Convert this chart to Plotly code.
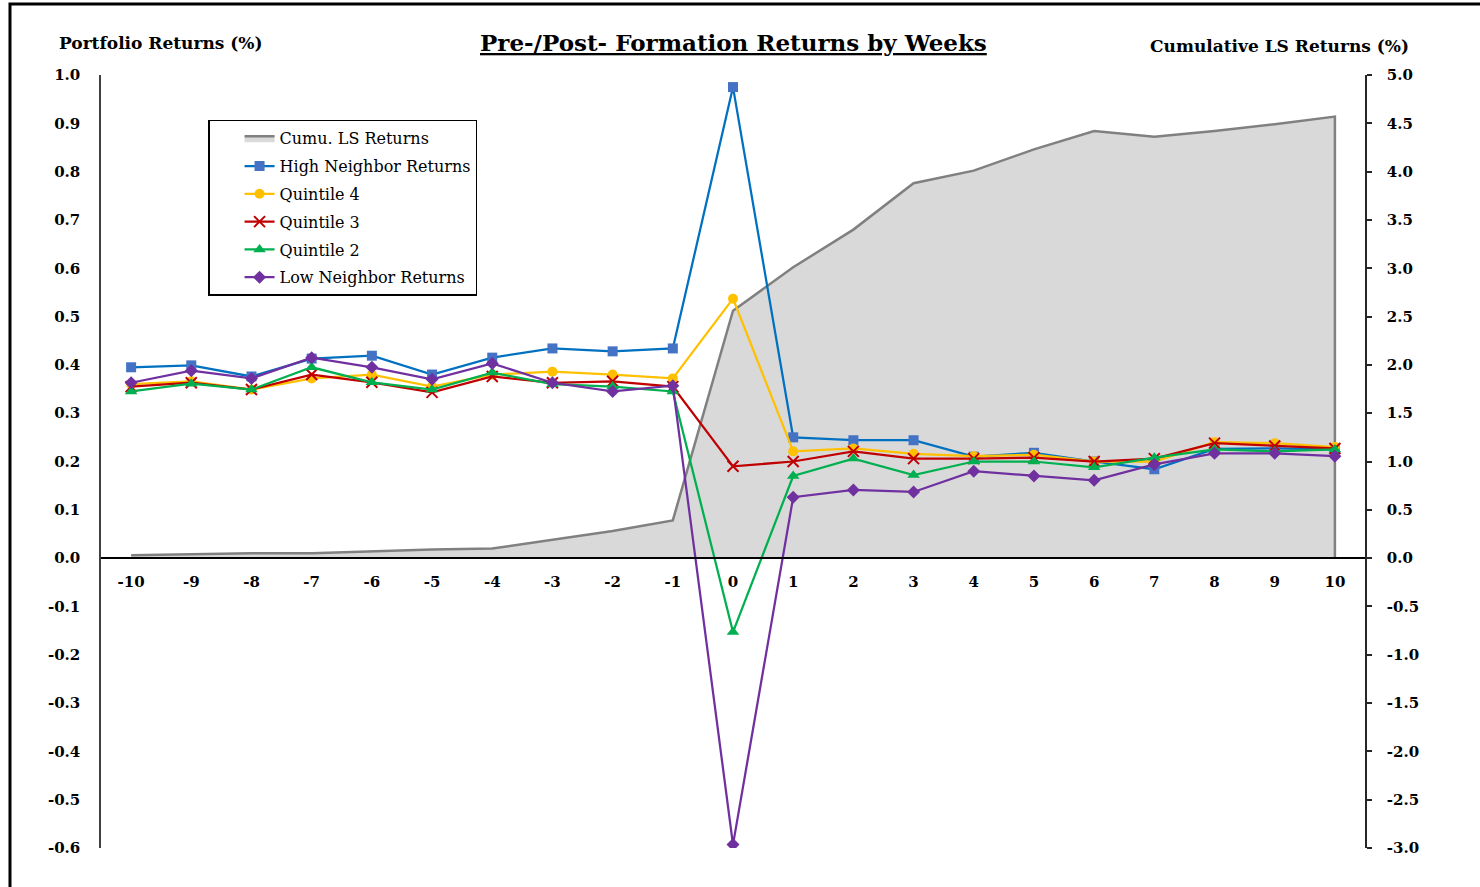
import plotly.graph_objects as go

# Event-time weeks relative to portfolio formation
weeks = list(range(-10, 11))

# Weekly portfolio returns (%), by neighbor-return quintile
high_neighbor = [0.395, 0.399, 0.376, 0.413, 0.419, 0.380, 0.415, 0.434, 0.428, 0.434,
                 0.975, 0.250, 0.244, 0.244, 0.210, 0.218, 0.200, 0.184, 0.226, 0.227, 0.225]
quintile_4 = [0.360, 0.366, 0.349, 0.372, 0.380, 0.355, 0.380, 0.386, 0.380, 0.372,
              0.537, 0.221, 0.227, 0.216, 0.211, 0.214, 0.200, 0.200, 0.240, 0.238, 0.230]
quintile_3 = [0.355, 0.363, 0.349, 0.380, 0.364, 0.343, 0.376, 0.363, 0.366, 0.355,
              0.190, 0.200, 0.221, 0.206, 0.206, 0.208, 0.200, 0.206, 0.238, 0.232, 0.227]
quintile_2 = [0.345, 0.361, 0.349, 0.395, 0.364, 0.349, 0.384, 0.360, 0.355, 0.345,
              -0.153, 0.170, 0.206, 0.172, 0.200, 0.200, 0.188, 0.208, 0.225, 0.221, 0.225]
low_neighbor = [0.363, 0.388, 0.372, 0.415, 0.395, 0.370, 0.403, 0.363, 0.345, 0.357,
                -0.593, 0.126, 0.141, 0.137, 0.180, 0.170, 0.161, 0.194, 0.217, 0.217, 0.211]

# Cumulative long-short returns (%)
cumu_ls = [0.03, 0.04, 0.05, 0.05, 0.07, 0.09, 0.10, 0.19, 0.28, 0.39,
           2.56, 3.01, 3.40, 3.88, 4.01, 4.23, 4.42, 4.36, 4.42, 4.49, 4.57]

# Axis ticks (plain hyphen for negatives)
left_ticks = [round(-0.6 + 0.1 * i, 1) for i in range(17)]
left_labels = [f"{v:.1f}" for v in left_ticks]
right_ticks = [round(-3.0 + 0.5 * i, 1) for i in range(17)]
right_labels = [f"{v:.1f}" for v in right_ticks]
week_labels = [str(w) for w in weeks]

FONT = "DejaVu Serif"

fig = go.Figure()

# Area for the cumulative long-short returns, closed down to the zero baseline
area_x = weeks + [weeks[-1]]
area_y = cumu_ls + [0]
fig.add_trace(go.Scatter(
    x=area_x, y=area_y, name="Cumu. LS Returns", mode="lines",
    fill="tozeroy", fillcolor="#D9D9D9",
    line=dict(color="#808080", width=2.5),
    yaxis="y", legendgroup="g0",
))

series = [
    ("High Neighbor Returns", high_neighbor, "#0070C0", "#4472C4", "square", 10),
    ("Quintile 4", quintile_4, "#FFC000", "#FFC000", "circle", 10),
    ("Quintile 3", quintile_3, "#C00000", "#C00000", "x-thin", 11),
    ("Quintile 2", quintile_2, "#00B050", "#00B050", "triangle-up", 11),
    ("Low Neighbor Returns", low_neighbor, "#7030A0", "#7030A0", "diamond", 10),
]
for i, (name, vals, lc, mc, sym, size) in enumerate(series):
    marker = dict(symbol=sym, size=size, color=mc)
    if sym == "x-thin":
        marker["line"] = dict(color=mc, width=2)
    else:
        marker["line"] = dict(width=0)
    fig.add_trace(go.Scatter(
        x=weeks, y=vals, name=name, mode="lines+markers",
        line=dict(color=lc, width=2.25), marker=marker,
        yaxis="y2", legendgroup=f"g{i + 1}",
    ))

tick_font = dict(family=FONT, size=15, weight="bold")

fig.update_layout(
    width=1480, height=887,
    margin=dict(l=101, r=115, t=75, b=39),
    paper_bgcolor="white", plot_bgcolor="white",
    font=dict(family=FONT, color="black"),
    showlegend=True,
    legend=dict(
        x=0.0847, y=0.942, xanchor="left", yanchor="top",
        bordercolor="black", borderwidth=1.5, bgcolor="white",
        font=dict(family=FONT, size=16, color="black"),
        traceorder="grouped", tracegroupgap=4, indentation=30,
    ),
    xaxis=dict(
        range=[-10.5, 10.5], tickvals=weeks, ticktext=week_labels,
        showgrid=False, zeroline=False, showline=True, linecolor="black", linewidth=2,
        ticks="", anchor="free", position=0.375,
        tickfont=tick_font, ticklabelstandoff=10,
    ),
    # cumulative returns scale (right)
    yaxis=dict(
        range=[-3.0, 5.0], tickvals=right_ticks, ticktext=right_labels, side="right",
        showgrid=False, zeroline=False, showline=True, linecolor="#262626", linewidth=1.5,
        ticks="outside", ticklen=5, tickwidth=1.5, tickcolor="#262626",
        tickfont=tick_font, ticklabelstandoff=12,
    ),
    # portfolio returns scale (left)
    yaxis2=dict(
        range=[-0.6, 1.0], tickvals=left_ticks, ticktext=left_labels,
        side="left", overlaying="y",
        showgrid=False, zeroline=False, showline=True, linecolor="#404040", linewidth=1.5,
        ticks="",
        tickfont=tick_font, ticklabelstandoff=16,
    ),
    annotations=[
        dict(text="<b><u>Pre-/Post- Formation Returns by Weeks</u></b>",
             xref="paper", yref="paper", x=0.5, y=1.0414,
             xanchor="center", yanchor="middle", showarrow=False,
             font=dict(family=FONT, size=23)),
        dict(text="<b>Portfolio Returns (%)</b>",
             xref="paper", yref="paper", x=0.0475, y=1.0414,
             xanchor="center", yanchor="middle", showarrow=False,
             font=dict(family=FONT, size=17)),
        dict(text="<b>Cumulative LS Returns (%)</b>",
             xref="paper", yref="paper", x=0.932, y=1.0375,
             xanchor="center", yanchor="middle", showarrow=False,
             font=dict(family=FONT, size=17)),
    ],
    shapes=[
        dict(type="rect", xref="paper", yref="paper",
             x0=-0.072, x1=1.095, y0=-0.06, y1=1.0918,
             line=dict(color="black", width=3), fillcolor="rgba(0,0,0,0)", layer="above"),
    ],
)

fig.write_html("out.html")
